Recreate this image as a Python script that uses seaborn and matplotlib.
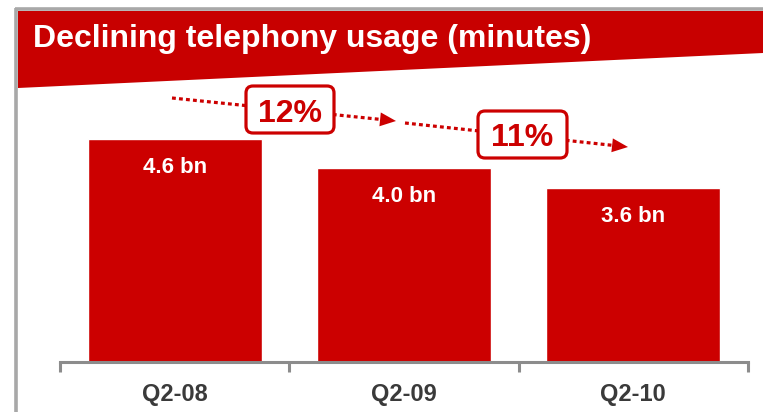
import matplotlib
matplotlib.use("Agg")
import matplotlib.pyplot as plt
from matplotlib.patches import Polygon, FancyBboxPatch, FancyArrowPatch
from matplotlib.lines import Line2D
import pandas as pd
import seaborn as sns

# ---- data -------------------------------------------------------------
periods = ["Q2-08", "Q2-09", "Q2-10"]
minutes_bn = [4.6, 4.0, 3.6]
decline_labels = ["12%", "11%"]
title = "Declining telephony usage (minutes)"

# ---- style ------------------------------------------------------------
RED = "#CC0000"
BANNER = "#C80000"
FRAME_GRAY = "#A8A8A8"
AXIS_GRAY = "#8C8C8C"
LABEL_GRAY = "#3A3A3A"

W, H, DPI = 763, 412, 100

sns.set_style("white")
plt.rcParams["font.family"] = ["Liberation Sans", "DejaVu Sans"]

fig = plt.figure(figsize=(W / DPI, H / DPI), dpi=DPI)
fig.patch.set_facecolor("white")
T = fig.dpi_scale_trans


def P(x, y):
    """pixel position (from top-left) -> inches for dpi_scale_trans"""
    return (x / DPI, (H - y) / DPI)


# ---- slide frame and title banner ------------------------------------
fig.add_artist(Line2D([P(15, 9)[0], P(W, 9)[0]], [P(15, 9)[1]] * 2,
                      transform=T, color=FRAME_GRAY, lw=2.6, solid_capstyle="butt"))
fig.add_artist(Line2D([P(16, 8)[0]] * 2, [P(16, 8)[1], P(16, H)[1]],
                      transform=T, color=FRAME_GRAY, lw=2.6, solid_capstyle="butt"))
fig.add_artist(Polygon([P(18, 11), P(W, 11), P(W, 53), P(18, 88)], closed=True,
                       transform=T, facecolor=BANNER, edgecolor="none"))
fig.text(*P(33, 47), title, transform=T, color="white", fontsize=23,
         fontweight="bold", ha="left", va="baseline")

# ---- bars -------------------------------------------------------------
ax = fig.add_axes([60 / W, (H - 362) / H, 688 / W, 300 / H])
ax.set_facecolor("none")
df = pd.DataFrame({"period": periods, "minutes": minutes_bn})
sns.barplot(data=df, x="period", y="minutes", color=RED, saturation=1,
            width=0.76, ax=ax)
ax.set_xlim(-0.5, len(periods) - 0.5)
ax.set_ylim(0, 6.2)

for i, v in enumerate(minutes_bn):
    ax.text(i, v - 0.70, f"{v:.1f} bn", ha="center", va="baseline",
            color="white", fontsize=16, fontweight="bold")

# category boundary ticks, labels centred between them
ax.set_xticks([i - 0.5 for i in range(len(periods) + 1)])
ax.set_xticklabels([])
ax.set_xticks(range(len(periods)), labels=periods, minor=True)
ax.tick_params(axis="x", which="major", bottom=True, length=7, width=2.2,
               color=AXIS_GRAY, direction="out")
ax.tick_params(axis="x", which="minor", bottom=True, length=0, pad=15,
               labelsize=17, labelcolor=LABEL_GRAY)
for lab in ax.get_xticklabels(minor=True):
    lab.set_fontweight("bold")
ax.set_yticks([])
ax.set_xlabel("")
ax.set_ylabel("")
for side in ("top", "left", "right"):
    ax.spines[side].set_visible(False)
ax.spines["bottom"].set_color(AXIS_GRAY)
ax.spines["bottom"].set_linewidth(2.2)

# ---- decline arrows with percentage boxes ----------------------------
arrows = [
    # start, tip, box centre, box size (pixels)
    ((172, 98), (396, 121), (290, 109.5), (88, 47)),
    ((405, 123), (628, 147), (522.5, 134.5), (89, 47)),
]
HEAD = 16
for (start, tip, centre, size), label in zip(arrows, decline_labels):
    dx, dy = tip[0] - start[0], tip[1] - start[1]
    length = (dx ** 2 + dy ** 2) ** 0.5
    base = (tip[0] - dx / length * HEAD, tip[1] - dy / length * HEAD)
    s, b = P(*start), P(*base)
    fig.add_artist(Line2D([s[0], b[0]], [s[1], b[1]], transform=T, color=RED,
                          lw=2.3, linestyle=(0, (1.2, 1.0)),
                          dash_capstyle="butt", zorder=3))
    fig.add_artist(FancyArrowPatch(P(*base), P(*tip), transform=T,
                                   arrowstyle="-|>,head_length=1.15,head_width=0.5",
                                   mutation_scale=10, color=RED, lw=0,
                                   shrinkA=0, shrinkB=0, zorder=3))
    bw, bh = size
    x0, y0 = P(centre[0] - bw / 2, centre[1] + bh / 2)
    fig.add_artist(FancyBboxPatch((x0, y0), bw / DPI, bh / DPI,
                                  boxstyle="round,pad=0,rounding_size=0.07",
                                  transform=T, facecolor="white",
                                  edgecolor=RED, lw=2.3, zorder=4))
    fig.text(*P(centre[0], centre[1] + 12), label, transform=T, color=RED,
             fontsize=23, fontweight="bold", ha="center", va="baseline",
             zorder=5)

fig.savefig("out.png", dpi=DPI)
